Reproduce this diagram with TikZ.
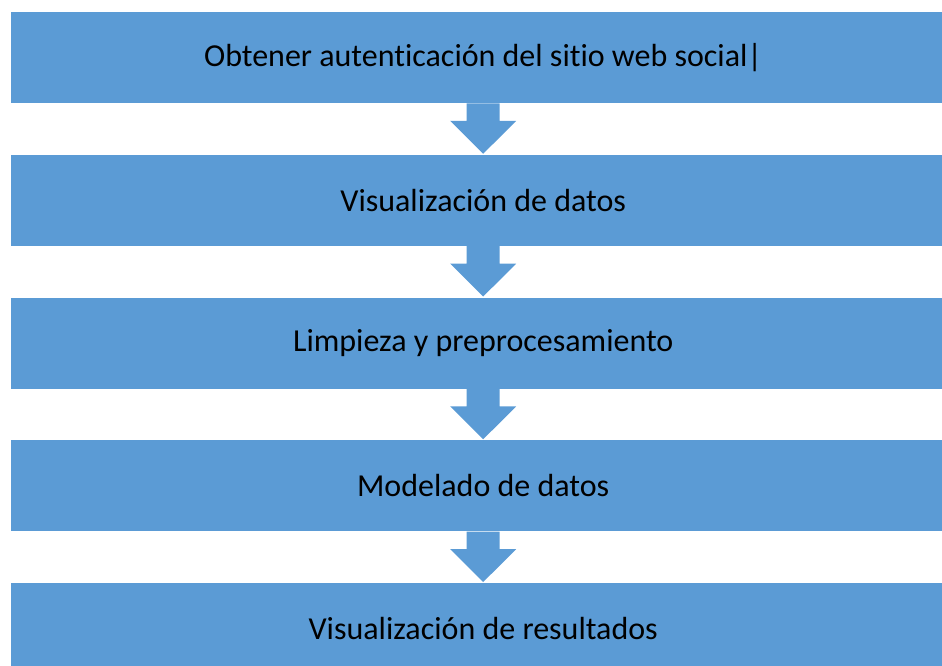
\documentclass[tikz,border=0pt]{standalone}
\usepackage{fontspec}
\setmainfont[Ligatures=NoCommon]{Carlito}
\usetikzlibrary{calc}
\definecolor{boxblue}{HTML}{5B9BD5}
\begin{document}
\begin{tikzpicture}[x=1pt,y=-1pt,
  stepbox/.style={fill=boxblue,draw=none,minimum width=944pt,minimum height=91pt,inner sep=0pt,anchor=north west,font=\fontsize{32}{38}\selectfont,text=black},
  blockarrow/.style={fill=boxblue,draw=none}]
\useasboundingbox (0,0) rectangle (942,666);
\begin{scope}
\clip (0,0) rectangle (942,666);
\node[stepbox] (b1) at (11,12) {Obtener autenticación del sitio web social|};
\node[stepbox] (b2) at (11,154.75) {Visualización de datos};
\node[stepbox] (b3) at (11,297.5) {Limpieza y preprocesamiento};
\node[stepbox] (b4) at (11,440.25) {Modelado de datos};
\node[stepbox] (b5) at (11,583) {Visualización de resultados};
\foreach \a/\b in {b1/b2,b2/b3,b3/b4,b4/b5}{
  \fill[blockarrow] ($(\a.south)+(-16.5,0)$) -- ($(\a.south)+(16.5,0)$) -- ($(\a.south)+(16.5,17.5)$) -- ($(\a.south)+(33,17.5)$) -- ($(\b.north)+(0,-1)$) -- ($(\a.south)+(-33,17.5)$) -- ($(\a.south)+(-16.5,17.5)$) -- cycle;
}
\end{scope}
\end{tikzpicture}
\end{document}
